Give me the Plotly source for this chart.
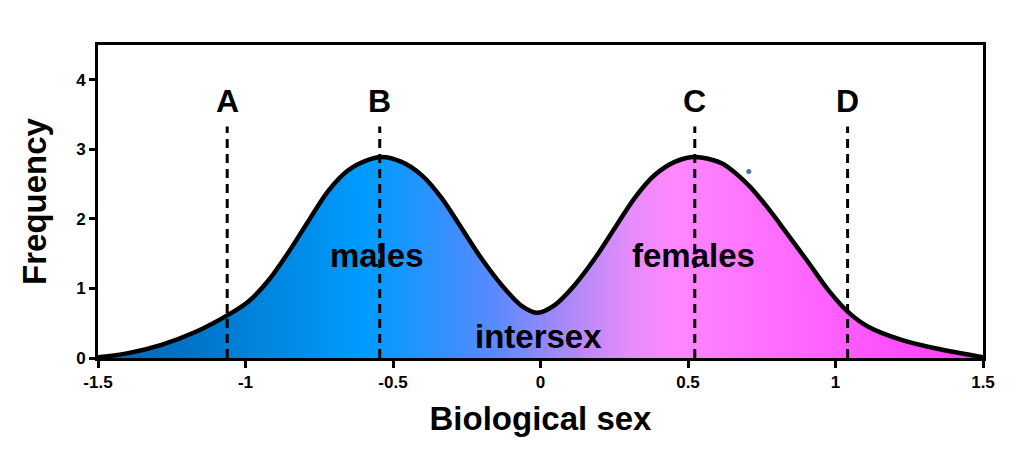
import plotly.graph_objects as go

# Curve
sex_x = [-1.5, -1.398, -1.285, -1.172, -1.059, -0.991, -0.923, -0.856, -0.788, -0.72, -0.652, -0.584,
         -0.539, -0.471, -0.403, -0.335, -0.268, -0.2, -0.132, -0.064, -0.01, 0.048, 0.116, 0.184,
         0.252, 0.319, 0.387, 0.455, 0.523, 0.614, 0.704, 0.772, 0.839, 0.907, 0.975, 1.043, 1.111,
         1.224, 1.337, 1.45, 1.5]
freq_y = [0.01, 0.07, 0.19, 0.37, 0.62, 0.81, 1.11, 1.51, 1.96, 2.40, 2.70, 2.85,
          2.89, 2.82, 2.63, 2.30, 1.87, 1.43, 1.05, 0.75, 0.65, 0.76, 1.05, 1.43,
          1.87, 2.30, 2.63, 2.82, 2.89, 2.80, 2.49, 2.15, 1.77, 1.38, 0.98, 0.66, 0.45,
          0.26, 0.14, 0.05, 0.01]

# Reference markers
marker_labels = ["A", "B", "C", "D"]
marker_x = [-1.062, -0.545, 0.523, 1.041]
marker_top = 3.33
marker_label_y = 3.69

# Region labels
region_labels = ["males", "females", "intersex"]
region_x = [-0.553, 0.52, -0.007]
region_y = [1.48, 1.48, 0.31]

# Stray point
dot_x = [0.706]
dot_y = [2.68]

x_ticks = [-1.5, -1, -0.5, 0, 0.5, 1, 1.5]
x_tick_text = ["-1.5", "-1", "-0.5", "0", "0.5", "1", "1.5"]
y_ticks = [0, 1, 2, 3, 4]

gradient = [
    [0.0, "#0066b3"], [0.1, "#0072c6"], [0.2, "#0088e2"], [0.3, "#009bff"],
    [0.35, "#1a97ff"], [0.4, "#3a8fff"], [0.45, "#5a8aff"], [0.5, "#8e88f8"],
    [0.55, "#bb8af8"], [0.6, "#e48cfc"], [0.65, "#ff88ff"], [0.7, "#ff7cff"],
    [0.8, "#ff66ff"], [0.9, "#ff4fff"], [1.0, "#ff3cf5"],
]

FONT = "Liberation Sans, Arial"

fig = go.Figure()
fig.add_trace(go.Scatter(
    x=sex_x, y=freq_y, mode="lines",
    line=dict(color="black", width=4.5, shape="spline", smoothing=0.9),
    fill="tozeroy",
    fillgradient=dict(type="horizontal", colorscale=gradient, start=-1.5, stop=1.5),
    hoverinfo="skip", showlegend=False,
))

for lab, mx in zip(marker_labels, marker_x):
    fig.add_trace(go.Scatter(
        x=[mx, mx], y=[0, marker_top], mode="lines",
        line=dict(color="black", width=3, dash="9px,6px"),
        hoverinfo="skip", showlegend=False,
    ))
    fig.add_annotation(x=mx, y=marker_label_y, text=f"<b>{lab}</b>", showarrow=False,
                       font=dict(family=FONT, size=32, color="black"))

for lab, rx, ry in zip(region_labels, region_x, region_y):
    fig.add_annotation(x=rx, y=ry, text=f"<b>{lab}</b>", showarrow=False,
                       font=dict(family=FONT, size=33, color="black"))

fig.add_trace(go.Scatter(x=dot_x, y=dot_y, mode="markers",
                         marker=dict(color="#4472c4", size=5), hoverinfo="skip", showlegend=False))

fig.update_layout(
    width=1015, height=455,
    margin=dict(l=90, r=40, t=37, b=105),
    paper_bgcolor="white", plot_bgcolor="white",
    showlegend=False,
)
fig.update_xaxes(
    range=[-1.5, 1.5], tickvals=x_ticks, ticktext=x_tick_text,
    showgrid=False, zeroline=False,
    showline=True, linecolor="black", linewidth=3, mirror=True,
    ticks="outside", ticklen=7, tickwidth=2.5, tickcolor="black",
    tickfont=dict(family=FONT, size=17, color="black", weight="bold"),
    title=dict(text="<b>Biological sex</b>", standoff=16,
               font=dict(family=FONT, size=33, color="black")),
)
fig.update_yaxes(
    range=[0, 4.5], tickvals=y_ticks,
    showgrid=False, zeroline=False,
    showline=True, linecolor="black", linewidth=3, mirror=True,
    ticks="outside", ticklen=6, tickwidth=2.5, tickcolor="black",
    tickfont=dict(family=FONT, size=17, color="black", weight="bold"),
    title=dict(text="<b>Frequency</b>", standoff=20,
               font=dict(family=FONT, size=33, color="black")),
)

fig.write_html("out.html")
